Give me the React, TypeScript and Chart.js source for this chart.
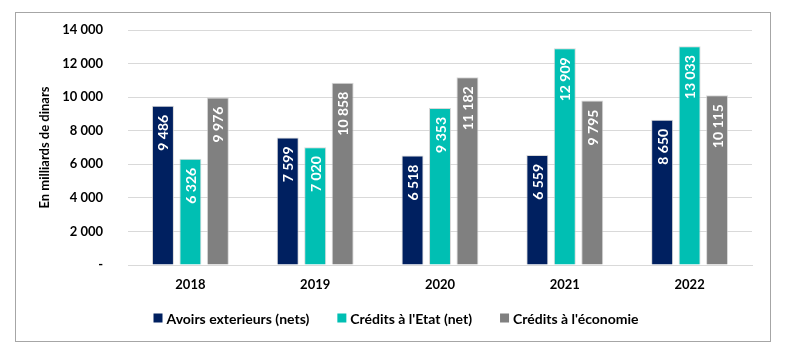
import React, { useEffect, useRef } from "react";
import { Chart, registerables } from "chart.js";

Chart.register(...registerables);

const categories = ["2018", "2019", "2020", "2021", "2022"];
const avoirsExterieurs = [9486, 7599, 6518, 6559, 8650];
const creditsEtat = [6326, 7020, 9353, 12909, 13033];
const creditsEconomie = [9976, 10858, 11182, 9795, 10115];
const seriesNames = ["Avoirs exterieurs (nets)", "Crédits à l'Etat (net)", "Crédits à l'économie"];
const seriesColors = ["#002060", "#00BFB3", "#808080"];
const yTicks = { min: 0, max: 14000, step: 2000 };
const yTitle = "En milliards de dinars";

const FONT = "Lato, 'Open Sans', sans-serif";

const fmt = (v: number) => {
  if (v === 0) return "-";
  return String(Math.round(v)).replace(/\B(?=(\d{3})+(?!\d))/g, " ");
};

const barLabels = {
  id: "barLabels",
  afterDatasetsDraw(chart: any) {
    const ctx = chart.ctx;
    ctx.save();
    ctx.fillStyle = "#FFFFFF";
    ctx.font = `bold 14px ${FONT}`;
    ctx.textAlign = "right";
    ctx.textBaseline = "middle";
    chart.data.datasets.forEach((ds: any, di: number) => {
      const meta = chart.getDatasetMeta(di);
      meta.data.forEach((el: any, i: number) => {
        const v = ds.data[i];
        ctx.save();
        ctx.translate(el.x + 1, el.y + 9);
        ctx.rotate(-Math.PI / 2);
        ctx.fillText(fmt(v), 0, 0);
        ctx.restore();
      });
    });
    ctx.restore();
  },
};

const customLegend = {
  id: "customLegend",
  afterDraw(chart: any) {
    const ctx = chart.ctx;
    ctx.save();
    ctx.font = `bold 14px ${FONT}`;
    ctx.textBaseline = "middle";
    ctx.textAlign = "left";
    const box = 9;
    const gapBox = 4;
    const gapItem = 28;
    const items = chart.data.datasets.map((ds: any) => ({
      label: ds.label,
      color: ds.backgroundColor,
      w: box + gapBox + ctx.measureText(ds.label).width,
    }));
    const total = items.reduce((s: number, it: any) => s + it.w, 0) + gapItem * (items.length - 1);
    let x = (chart.width - total) / 2 + 3;
    const y = chart.chartArea.bottom + 53;
    items.forEach((it: any) => {
      ctx.fillStyle = it.color;
      ctx.fillRect(x, y - box / 2, box, box);
      ctx.fillStyle = "#000000";
      ctx.fillText(it.label, x + box + gapBox, y + 1);
      x += it.w + gapItem;
    });
    ctx.restore();
  },
};

export default function App() {
  const ref = useRef<HTMLCanvasElement>(null);
  useEffect(() => {
    if (!ref.current) return;
    const data = [avoirsExterieurs, creditsEtat, creditsEconomie];
    const chart = new Chart(ref.current, {
      type: "bar",
      data: {
        labels: categories,
        datasets: data.map((d, i) => ({
          label: seriesNames[i],
          data: d,
          backgroundColor: seriesColors[i],
          borderColor: "rgba(200,200,200,0.7)",
          borderWidth: 1,
          categoryPercentage: 0.66,
          barPercentage: 0.8,
        })),
      },
      options: {
        animation: false,
        responsive: false,
        devicePixelRatio: 1,
        layout: { padding: { top: 17, right: 18, left: 0, bottom: 46 } },
        plugins: {
          tooltip: { enabled: false },
          legend: { display: false },
        },
        scales: {
          x: {
            grid: { display: false, drawTicks: false },
            border: { display: true, color: "#D9D9D9" },
            ticks: {
              color: "#000000",
              padding: 12,
              font: { family: FONT, weight: "bold", size: 13 },
            },
            afterFit(scale: any) {
              scale.height = 30;
            },
          },
          y: {
            min: yTicks.min,
            max: yTicks.max,
            grid: {
              color: "#D9D9D9",
              drawTicks: true,
              tickLength: 25,
              tickColor: "rgba(0,0,0,0)",
              lineWidth: 1,
            },
            border: { display: false },
            ticks: {
              stepSize: yTicks.step,
              color: "#000000",
              padding: 0,
              font: { family: FONT, weight: "bold", size: 13 },
              callback: (v: any) => fmt(Number(v)),
            },
            title: {
              display: true,
              text: yTitle,
              color: "#000000",
              font: { family: FONT, weight: "bold", size: 13 },
              padding: { top: 21, bottom: 0 },
            },
            afterFit(scale: any) {
              scale.width = 112;
            },
          },
        },
      },
      plugins: [barLabels, customLegend],
    } as any);
    return () => chart.destroy();
  }, []);
  return (
    <div style={{ padding: "4px 0 0 7px" }}>
      <div style={{ border: "1px solid #A6A6A6", width: 754, height: 328 }}>
        <canvas ref={ref} width={754} height={328} style={{ display: "block" }} />
      </div>
    </div>
  );
}
